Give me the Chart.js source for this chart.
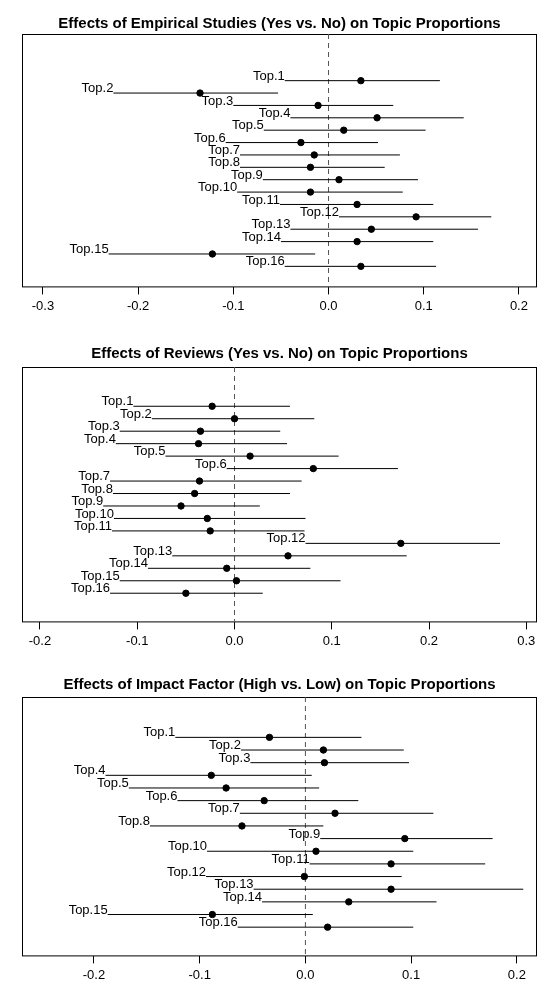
<!DOCTYPE html>
<html>
<head>
<meta charset="utf-8">
<script src="https://cdn.jsdelivr.net/npm/chart.js@4"></script>
<style>
  body { margin: 0; background: #fff; width: 558px; height: 997px; overflow: hidden; }
  .panel { position: absolute; left: 0; width: 558px; }
</style>
</head>
<body>
<div class="panel" style="top:0px;height:326px"><canvas id="c1"></canvas></div>
<div class="panel" style="top:332px;height:329px"><canvas id="c2"></canvas></div>
<div class="panel" style="top:664px;height:331px"><canvas id="c3"></canvas></div>
<script>
const topics = ['Top.1','Top.2','Top.3','Top.4','Top.5','Top.6','Top.7','Top.8',
                'Top.9','Top.10','Top.11','Top.12','Top.13','Top.14','Top.15','Top.16'];

// Empirical studies
const empEst = [0.034,-0.135,-0.011,0.051,0.016,-0.029,-0.015,-0.019,0.011,-0.019,0.030,0.092,0.045,0.030,-0.122,0.034];
const empLo  = [-0.046,-0.226,-0.100,-0.040,-0.068,-0.108,-0.093,-0.093,-0.069,-0.096,-0.051,0.011,-0.040,-0.050,-0.231,-0.046];
const empHi  = [0.117,-0.053,0.068,0.142,0.102,0.052,0.075,0.059,0.094,0.078,0.110,0.171,0.157,0.110,-0.014,0.113];
const empTicks = [-0.3,-0.2,-0.1,0,0.1,0.2];

// Reviews
const revEst = [-0.023,0.000,-0.035,-0.037,0.016,0.081,-0.036,-0.041,-0.055,-0.028,-0.025,0.171,0.055,-0.008,0.002,-0.050];
const revLo  = [-0.104,-0.085,-0.118,-0.122,-0.071,-0.008,-0.128,-0.125,-0.135,-0.124,-0.126,0.073,-0.064,-0.089,-0.118,-0.128];
const revHi  = [0.057,0.082,0.047,0.054,0.107,0.168,0.069,0.057,0.026,0.073,0.072,0.273,0.177,0.078,0.109,0.029];
const revTicks = [-0.2,-0.1,0,0.1,0.2,0.3];

// Impact factor
const impEst = [-0.034,0.017,0.018,-0.089,-0.075,-0.039,0.028,-0.060,0.094,0.010,0.081,-0.001,0.081,0.041,-0.088,0.021];
const impLo  = [-0.123,-0.061,-0.052,-0.189,-0.167,-0.121,-0.062,-0.147,0.014,-0.093,0.004,-0.094,-0.049,-0.041,-0.187,-0.064];
const impHi  = [0.053,0.093,0.098,0.006,0.013,0.050,0.121,0.017,0.177,0.102,0.170,0.091,0.206,0.124,0.007,0.102];
const impTicks = [-0.2,-0.1,0,0.1,0.2];

const FONT = 'Liberation Sans, Arial, sans-serif';

const ciPlugin = {
    id: 'ci',
    beforeDatasetsDraw(chart, args, opts) {
        const { ctx, chartArea: a, scales: { x, y } } = chart;
        ctx.save();
        // box
        ctx.strokeStyle = '#000';
        ctx.lineWidth = 1;
        ctx.strokeRect(a.left + 0.5, a.top + 0.5, a.width - 1, a.height - 1);
        // zero line
        ctx.setLineDash([5, 4]);
        ctx.strokeStyle = '#555';
        ctx.beginPath();
        ctx.moveTo(x.getPixelForValue(0), a.top);
        ctx.lineTo(x.getPixelForValue(0), a.bottom);
        ctx.stroke();
        ctx.setLineDash([]);
        // intervals and labels
        ctx.strokeStyle = '#000';
        ctx.fillStyle = '#000';
        ctx.font = '13px ' + FONT;
        ctx.textAlign = 'right';
        ctx.textBaseline = 'bottom';
        opts.lo.forEach((lo, i) => {
            const py = y.getPixelForValue(i + 1);
            ctx.beginPath();
            ctx.moveTo(x.getPixelForValue(lo), py);
            ctx.lineTo(x.getPixelForValue(opts.hi[i]), py);
            ctx.stroke();
            ctx.fillText(opts.labels[i], x.getPixelForValue(lo), py + 2);
        });
        ctx.restore();
    }
};

function makeChart(id, title, est, lo, hi, ticks, xmin, xmax, ymin, ymax, tpad) {
    new Chart(document.getElementById(id), {
        type: 'scatter',
        data: {
            datasets: [{
                data: est.map((v, i) => ({ x: v, y: i + 1 })),
                backgroundColor: '#000',
                borderColor: '#000',
                pointRadius: 3.2,
            }],
        },
        options: {
            responsive: true,
            maintainAspectRatio: false,
            animation: false,
            layout: { padding: { left: 22, right: 21, top: 0, bottom: 8 } },
            scales: {
                x: {
                    min: xmin,
                    max: xmax,
                    afterBuildTicks: (axis) => { axis.ticks = ticks.map(v => ({ value: v })); },
                    grid: { drawOnChartArea: false, drawTicks: true, tickLength: 7, color: '#000' },
                    border: { display: false },
                    ticks: { color: '#000', font: { family: FONT, size: 13 }, padding: 4,
                             callback: (v) => v.toFixed(1) },
                },
                y: { display: false, reverse: true, min: ymin, max: ymax },
            },
            plugins: {
                legend: { display: false },
                tooltip: { enabled: false },
                title: {
                    display: true, text: title, color: '#000',
                    font: { family: FONT, size: 15, weight: 'bold' },
                    padding: tpad,
                },
                ci: { lo: lo, hi: hi, labels: topics },
            },
        },
        plugins: [ciPlugin],
    });
}

makeChart('c1', 'Effects of Empirical Studies (Yes vs. No) on Topic Proportions',
          empEst, empLo, empHi, empTicks, -0.322, 0.219, -2.77, 17.7, { top: 15, bottom: 1 });
makeChart('c2', 'Effects of Reviews (Yes vs. No) on Topic Proportions',
          revEst, revLo, revHi, revTicks, -0.2185, 0.311, -2.15, 18.34, { top: 13, bottom: 4 });
makeChart('c3', 'Effects of Impact Factor (High vs. Low) on Topic Proportions',
          impEst, impLo, impHi, impTicks, -0.268, 0.219, -2.19, 18.31, { top: 12, bottom: 3 });
</script>
</body>
</html>
